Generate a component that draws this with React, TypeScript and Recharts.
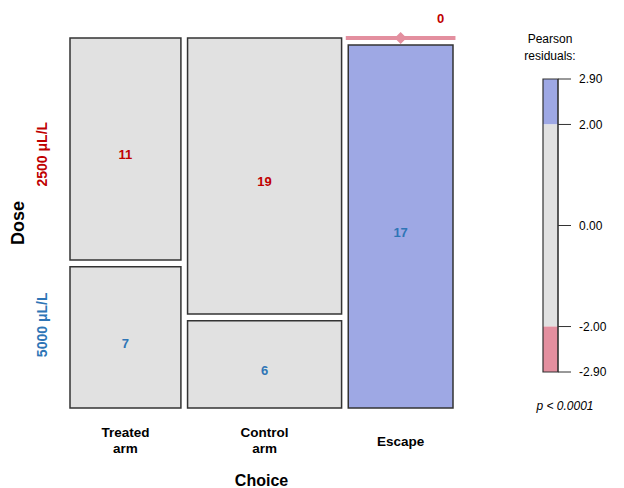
import { ComposedChart, XAxis, YAxis, ReferenceArea, ReferenceLine, Scatter } from "recharts";

const CHOICES = ["Treated arm", "Control arm", "Escape"];
const DOSES = ["2500 μL/L", "5000 μL/L"];
const COUNTS_2500 = [11, 19, 0];
const COUNTS_5000 = [7, 6, 17];
const RESIDUAL_TICKS = [2.9, 2, 0, -2, -2.9];
const SHADE_CUTOFF = 2;

const DOSE_COLORS = ["#c00000", "#2e75b6"];
const BLUE = "#9ea8e4";
const PINK = "#e38f9f";
const GRAY = "#e1e1e1";
const EDGE = "#333";
const FONT = "'Liberation Sans', Arial, sans-serif";

const GAP_X = 1.08; // spacing between columns, in count units
const GAP_Y = 0.019; // spacing between tiles, in proportion units

const rows = [COUNTS_2500, COUNTS_5000];
const colTotals = CHOICES.map((_, j) => rows.reduce((s, r) => s + r[j], 0));
const rowTotals = rows.map((r) => r.reduce((a, b) => a + b, 0));
const grand = colTotals.reduce((a, b) => a + b, 0);
const xMax = grand + GAP_X * (CHOICES.length - 1);
const yMax = 1 + GAP_Y;

const residual = (i: number, j: number) => {
  const e = (rowTotals[i] * colTotals[j]) / grand;
  return (rows[i][j] - e) / Math.sqrt(e);
};
const shade = (r: number) => (r > SHADE_CUTOFF ? BLUE : r < -SHADE_CUTOFF ? PINK : GRAY);

type Cell = { x1: number; x2: number; y1: number; y2: number; x: number; y: number; count: number; fill: string; dose: number };
const cells: Cell[] = [];
const centers: number[] = [];
{
  let x = 0;
  CHOICES.forEach((_, j) => {
    const x1 = x;
    const x2 = x + colTotals[j];
    centers.push((x1 + x2) / 2);
    let y = 0;
    rows.forEach((r, i) => {
      const y1 = y;
      const y2 = y + r[j] / colTotals[j];
      cells.push({ x1, x2, y1, y2, x: (x1 + x2) / 2, y: (y1 + y2) / 2, count: r[j], fill: shade(residual(i, j)), dose: i });
      y = y2 + GAP_Y;
    });
    x = x2 + GAP_X;
  });
}

function CellMark(props: any) {
  const { cx, cy, payload } = props;
  const color = DOSE_COLORS[payload.dose];
  if (payload.count === 0) {
    return (
      <g>
        <path d={`M${cx},${cy - 6}L${cx + 6},${cy}L${cx},${cy + 6}L${cx - 6},${cy}Z`} fill={payload.fill} />
        <text x={cx + 40} y={cy - 20} textAnchor="middle" dominantBaseline="central"
          fill={color} fontFamily={FONT} fontWeight="bold" fontSize={13}>
          {payload.count}
        </text>
      </g>
    );
  }
  return (
    <text x={cx} y={cy + 6} textAnchor="middle" dominantBaseline="central"
      fill={color} fontFamily={FONT} fontWeight="bold" fontSize={13}>
      {payload.count}
    </text>
  );
}

function ChoiceTick(props: any) {
  const { x, y, payload } = props;
  const idx = centers.indexOf(payload.value);
  const words = (CHOICES[idx] || "").split(" ");
  const base = words.length > 1 ? 16 : 25;
  return (
    <g>
      {words.map((w, k) => (
        <text key={k} x={x} y={y + base + k * 16} textAnchor="middle" dominantBaseline="central"
          fontFamily={FONT} fontWeight="bold" fontSize={13.5} fill="#000">
          {w}
        </text>
      ))}
    </g>
  );
}

const doseTickPos = [0.32, 0.79];
function DoseTick(props: any) {
  const { y, payload } = props;
  const idx = doseTickPos.indexOf(payload.value);
  return (
    <text x={42} y={y} transform={`rotate(-90 42 ${y})`} textAnchor="middle" dominantBaseline="central"
      fontFamily={FONT} fontWeight="bold" fontSize={14} fill={DOSE_COLORS[idx]}>
      {DOSES[idx]}
    </text>
  );
}

function DoseTitle(props: any) {
  const vb = props.viewBox;
  const cy = vb.y + vb.height / 2;
  return (
    <text x={18} y={cy} transform={`rotate(-90 18 ${cy})`} textAnchor="middle" dominantBaseline="central"
      fontFamily={FONT} fontWeight="bold" fontSize={18} fill="#000">
      Dose
    </text>
  );
}

const legendData = RESIDUAL_TICKS.map((v) => ({ x: 0.5, y: v }));

export default function App() {
  const zeroCells = cells.filter((c) => c.count === 0);
  return (
    <div style={{ position: "absolute", left: 0, top: 0, width: 624, height: 488, background: "#fff" }}>
      <div style={{ position: "absolute", left: 0, top: 0 }}>
        <ComposedChart width={624} height={488} data={cells} margin={{ top: 38, right: 171, bottom: 0, left: 0 }}>
          <XAxis type="number" dataKey="x" domain={[0, xMax]} ticks={centers} height={80}
            axisLine={false} tickLine={false} tick={<ChoiceTick />} interval={0}
            label={{ value: "Choice", position: "insideBottom", offset: 2, fill: "#000", fontFamily: FONT, fontWeight: "bold", fontSize: 16 }} />
          <YAxis type="number" dataKey="y" domain={[0, yMax]} reversed width={70} ticks={doseTickPos}
            axisLine={false} tickLine={false} tick={<DoseTick />} interval={0}
            label={{ content: <DoseTitle /> }} />
          {cells.filter((c) => c.count > 0).map((c, k) => (
            <ReferenceArea key={k} x1={c.x1} x2={c.x2} y1={c.y1} y2={c.y2} fill={c.fill} fillOpacity={1}
              stroke={EDGE} strokeWidth={1.5} ifOverflow="visible" />
          ))}
          {zeroCells.map((c, k) => (
            <ReferenceLine key={`zl${k}`} segment={[{ x: c.x1 - 0.4, y: c.y1 }, { x: c.x2 + 0.4, y: c.y1 }]}
              stroke={c.fill} strokeWidth={4} ifOverflow="visible" />
          ))}
          <Scatter data={cells} dataKey="y" shape={<CellMark />} isAnimationActive={false} />
        </ComposedChart>
      </div>

      <div style={{ position: "absolute", left: 500, top: 0 }}>
        <ComposedChart width={124} height={488} data={legendData} margin={{ top: 79, right: 0, bottom: 116, left: 43 }}>
          <XAxis type="number" dataKey="x" domain={[0, 1]} hide />
          <YAxis type="number" dataKey="y" orientation="right" domain={[-2.9, 2.9]} ticks={RESIDUAL_TICKS} width={66}
            interval={0} tickSize={13} tickMargin={8} axisLine={{ stroke: EDGE }} tickLine={{ stroke: EDGE }}
            tickFormatter={(v: number) => v.toFixed(2)}
            tick={{ fill: "#000", fontSize: 12, fontFamily: FONT }} />
          <ReferenceArea y1={SHADE_CUTOFF} y2={2.9} fill={BLUE} fillOpacity={1} />
          <ReferenceArea y1={-SHADE_CUTOFF} y2={SHADE_CUTOFF} fill={GRAY} fillOpacity={1} />
          <ReferenceArea y1={-2.9} y2={-SHADE_CUTOFF} fill={PINK} fillOpacity={1} />
          <ReferenceArea y1={-2.9} y2={2.9} fill="none" stroke={EDGE} strokeWidth={1.2} />
          <Scatter data={legendData} dataKey="y" shape={() => <g />} isAnimationActive={false} />
        </ComposedChart>
      </div>

      <div style={{ position: "absolute", left: 500, top: 31, width: 100, textAlign: "center", fontFamily: FONT, fontSize: 12, lineHeight: "17px", color: "#000" }}>
        Pearson<br />residuals:
      </div>
      <div style={{ position: "absolute", left: 515, top: 399, width: 100, textAlign: "center", fontFamily: FONT, fontSize: 12, fontStyle: "italic", color: "#000" }}>
        p &lt; 0.0001
      </div>
    </div>
  );
}
